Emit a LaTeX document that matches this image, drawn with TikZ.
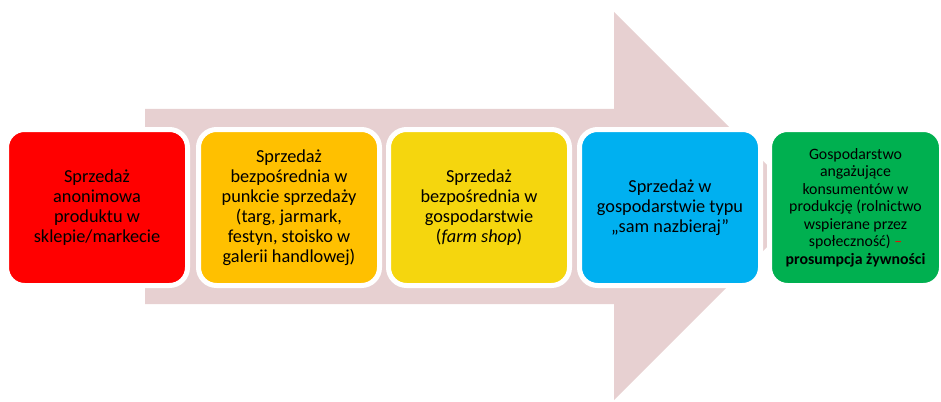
\documentclass[tikz,border=0pt]{standalone}
\usepackage{fontspec}
\setmainfont{Carlito}
\definecolor{arrowpink}{HTML}{E7D0D1}
\definecolor{cred}{HTML}{FF0000}
\definecolor{corange}{HTML}{FFC000}
\definecolor{cyellow}{HTML}{F5D60E}
\definecolor{cblue}{HTML}{00B0F0}
\definecolor{cgreen}{HTML}{00B050}
\begin{document}
\begin{tikzpicture}[x=1pt,y=-1pt,
  stagebox/.style={draw=white, line width=5pt, rounded corners=18pt,
    minimum width=181pt, minimum height=156pt, inner sep=2pt,
    align=center, text=black, font=\fontsize{18.3}{20}\selectfont},
  ]
\useasboundingbox (0,0) rectangle (941,401);
\fill[arrowpink] (145,109) -- (614,109) -- (614,12) -- (808,206) -- (614,400) -- (614,304) -- (145,304) -- cycle;
\node[stagebox, fill=cred] (b1) at (97,207.5) {Sprzedaż\\anonimowa\\produktu w\\sklepie/markecie};
\node[stagebox, fill=corange] (b2) at (289,207.5) {Sprzedaż\\bezpośrednia w\\punkcie sprzedaży\\(targ, jarmark,\\festyn, stoisko w\\galerii handlowej)};
\node[stagebox, fill=cyellow] (b3) at (479,207.5) {Sprzedaż\\bezpośrednia w\\gospodarstwie\\(\textit{farm shop})};
\node[stagebox, fill=cblue] (b4) at (670,207.5) {Sprzedaż w\\gospodarstwie typu\\„sam nazbieraj”};
\node[stagebox, fill=cgreen, minimum width=172pt, font=\fontsize{15.8}{17.5}\selectfont] (b5) at (855.5,207.5) {Gospodarstwo\\angażujące\\konsumentów w\\produkcję (rolnictwo\\wspierane przez\\społeczność) \textcolor{cred}{–}\\\textbf{prosumpcja żywności}};
\end{tikzpicture}
\end{document}
